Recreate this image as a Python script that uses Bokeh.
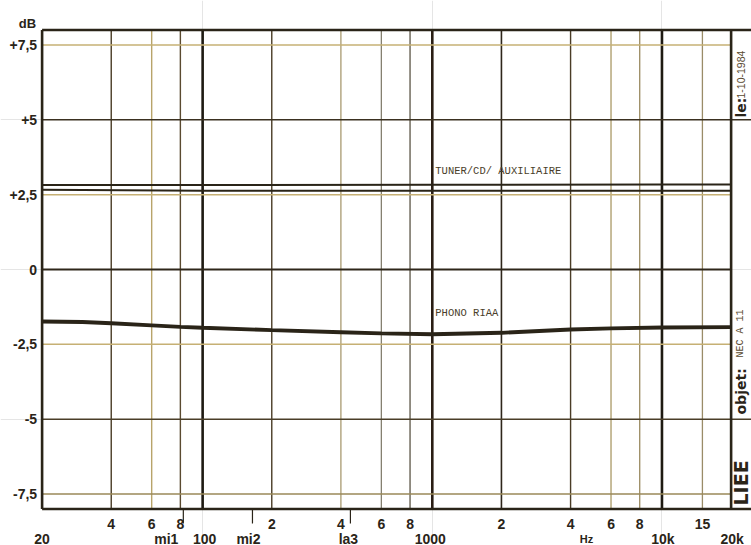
import math
from bokeh.plotting import figure
from bokeh.models import Range1d, LogScale, ColumnDataSource
from bokeh.core.properties import value
from bokeh.embed import file_html
from bokeh.resources import INLINE

# ---------------- data ----------------
db_ticks = [7.5, 5, 2.5, 0, -2.5, -5, -7.5]
db_labels = ["+7,5", "+5", "+2,5", "0", "-2,5", "-5", "-7,5"]

minor_freqs = [40, 60, 80, 200, 400, 600, 800, 2000, 4000, 6000, 8000, 15000]
minor_labels = ["4", "6", "8", "2", "4", "6", "8", "2", "4", "6", "8", "15"]
major_freqs = [20, 100, 1000, 10000, 20000]
major_labels = ["20", "100", "1000", "10k", "20k"]
note_freqs = [82.4, 164.8, 440.0]
note_labels = ["mi1", "mi2", "la3"]

grid_freqs = [40, 60, 80, 100, 200, 400, 600, 800, 1000, 2000, 4000, 6000, 8000, 10000, 15000]

tuner_freq = [20, 100, 1000, 10000, 20000]
tuner_a = [2.82, 2.82, 2.83, 2.84, 2.84]
tuner_b = [2.66, 2.63, 2.63, 2.63, 2.63]

phono_freq = [20, 30, 40, 60, 80, 100, 200, 400, 600, 1000, 2000, 4000, 6000, 10000, 20000]
phono_a = [-1.71, -1.73, -1.77, -1.84, -1.89, -1.92, -2.00, -2.07, -2.11, -2.14, -2.09, -1.98, -1.94, -1.91, -1.90]
phono_b = [-1.76, -1.78, -1.82, -1.89, -1.94, -1.97, -2.05, -2.12, -2.16, -2.19, -2.14, -2.03, -1.99, -1.96, -1.95]

# ---------------- layout (canvas pixels) ----------------
W, H = 751, 545
DEC = 229.67      # px per decade
X20 = 41.6        # x of 20 Hz
Y0 = 269.0        # y of 0 dB
PXDB = 29.94      # px per dB

def fx(px):
    return 20 * 10 ** ((px - X20) / DEC)

def fy(py):
    return (Y0 - py) / PXDB

INK = "#2a2418"
DARK = "#3a3020"
LIGHT = "#c6b074"

p = figure(width=W, height=H, x_axis_type="log",
           x_range=Range1d(fx(0), fx(W)), y_range=Range1d(fy(H), fy(0)),
           toolbar_location=None, output_backend="svg",
           x_axis_location=None, y_axis_location=None,
           min_border=0, min_border_left=0, min_border_right=0,
           min_border_top=0, min_border_bottom=0,
           outline_line_color=None,
           background_fill_color="white", border_fill_color="white")
p.x_scale = LogScale()

# vertical grid lines
v_colors = ["#4a3c26", "#b8a46a", "#5a4a30", "#1e1a12", "#4a3c26", "#a89a70", "#858070",
            "#5a5444", "#2a1e14", "#2e261a", "#4a3c26", "#b0a070", "#9a8a60", "#1e1a12", "#9a8c68"]
v_widths = [1.4, 1.4, 1.4, 2.6, 1.4, 1.3, 1.3, 1.3, 2.6, 1.6, 1.4, 1.4, 1.3, 2.6, 1.3]
vs = ColumnDataSource(dict(x=grid_freqs, c=v_colors, w=v_widths,
                           y0=[-8] * len(grid_freqs), y1=[8] * len(grid_freqs)))
p.segment(x0="x", y0="y0", x1="x", y1="y1", line_color="c", line_width="w", source=vs)

# horizontal grid lines (+5 and -5 continue through the side strip)
h_colors = [LIGHT, DARK, LIGHT, "#2e261a", LIGHT, "#4a3e28", "#9a8858"]
h_widths = [1.5, 1.6, 1.5, 1.8, 1.5, 1.6, 1.5]
h_end = [20000, fx(800), 20000, 20000, 20000, fx(800), 20000]
hs = ColumnDataSource(dict(y=db_ticks, c=h_colors, w=h_widths,
                           x0=[20] * len(db_ticks), x1=h_end))
p.segment(x0="x0", y0="y", x1="x1", y1="y", line_color="c", line_width="w", source=hs)

# frame and strip border
p.segment(x0=[20, 20000], y0=[-8, -8], x1=[20, 20000], y1=[8, 8], line_color=INK, line_width=2.6)
p.segment(x0=[20, 20], y0=[8, -8], x1=[fx(800), fx(800)], y1=[8, -8], line_color=INK, line_width=2.6)

# curves
p.line(tuner_freq, tuner_a, line_color=INK, line_width=2.0)
p.line(tuner_freq, tuner_b, line_color=INK, line_width=2.0)
p.line(phono_freq, phono_a, line_color=INK, line_width=2.4)
p.line(phono_freq, phono_b, line_color=INK, line_width=2.4)

# curve captions (typewriter)
p.text(x=[1000, 1000], y=[fy(170), fy(312)], text=["TUNER/CD/ AUXILIAIRE", "PHONO RIAA"],
       x_offset=3, text_font=value("Liberation Mono"), text_font_size="10.5px",
       text_color="#4a3e2a", text_align="left", text_baseline="middle")

BOLD = value("Liberation Sans")
# y tick labels
p.text(x=[20] * len(db_ticks), y=db_ticks, text=db_labels, x_offset=-5,
       text_font=BOLD, text_font_style="bold", text_font_size="14px",
       text_color=INK, text_align="right", text_baseline="middle")
p.text(x=[fx(27)], y=[fy(23)], text=["dB"], text_font=BOLD, text_font_style="bold",
       text_font_size="13px", text_color=INK, text_align="center", text_baseline="alphabetic")

# x tick labels, upper row
p.text(x=minor_freqs, y=[fy(523)] * len(minor_freqs), text=minor_labels,
       text_font=BOLD, text_font_style="bold", text_font_size="14px",
       text_color=INK, text_align="center", text_baseline="alphabetic")
# x tick labels, lower row
p.text(x=major_freqs, y=[fy(538)] * len(major_freqs), text=major_labels,
       x_offset=[0, 2, -2, 1, 1],
       text_font=BOLD, text_font_style="bold", text_font_size="14px",
       text_color=INK, text_align="center", text_baseline="alphabetic")
# musical notes
p.segment(x0=note_freqs, y0=[fy(509)] * 3, x1=note_freqs, y1=[fy(523)] * 3,
          line_color=INK, line_width=1.2)
p.text(x=note_freqs, y=[fy(538)] * 3, text=note_labels, x_offset=[-5, -4, -2],
       text_align=["right", "center", "center"],
       text_font=BOLD, text_font_style="bold", text_font_size="14px",
       text_color=INK, text_baseline="alphabetic")
p.text(x=[fx(586)], y=[fy(544.5)], text=["Hz"], text_font=BOLD, text_font_style="bold",
       text_font_size="11px", text_color=INK, text_align="center", text_baseline="bottom")

# side strip texts (rotated)
SX = fx(740)
p.text(x=[SX, SX, SX], y=[fy(117), fy(414), fy(505)], text=["le:", "objet:", "LIEE"],
       angle=math.pi / 2, text_font=value("DejaVu Sans"), text_font_style="bold",
       text_font_size=["14px", "14px", "19px"], text_color=INK,
       text_align="left", text_baseline="middle")
p.text(x=[SX], y=[fy(98)], text=["1-10-1984"], angle=math.pi / 2,
       text_font=value("Liberation Sans"), text_font_size="10.5px", text_color="#5a4a30",
       text_align="left", text_baseline="middle")
p.text(x=[SX], y=[fy(357)], text=["NEC A 11"], angle=math.pi / 2,
       text_font=value("Liberation Mono"), text_font_size="10px", text_color="#5a4a30",
       text_align="left", text_baseline="middle")

open("out.html", "w").write(file_html(p, INLINE))
